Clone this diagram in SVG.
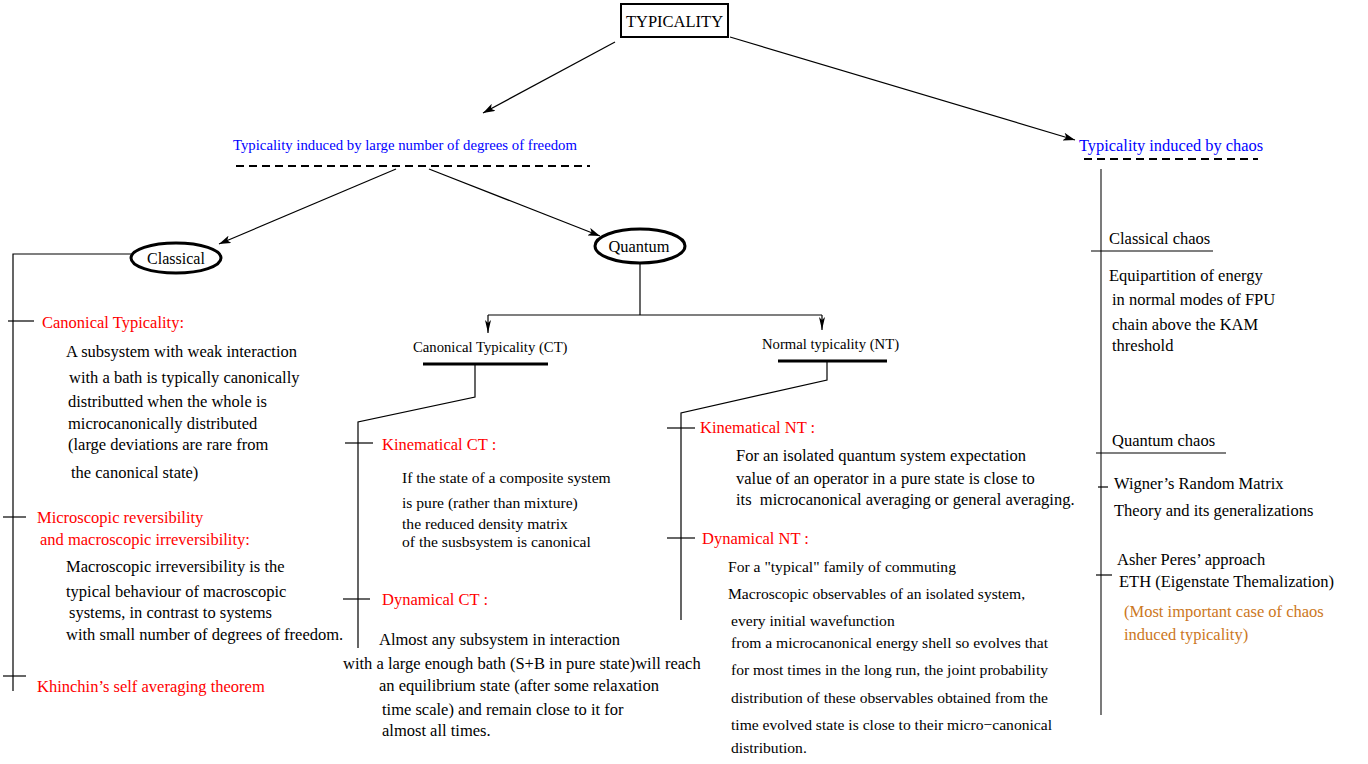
<svg xmlns="http://www.w3.org/2000/svg" width="1368" height="764" viewBox="0 0 1368 764">
<style>
text{font-family:"Liberation Serif","Times New Roman",serif;fill:#000}
.s165{font-size:16.5px}
.s156{font-size:15.6px}
.s147{font-size:14.7px}
.red{fill:#ff0000;font-size:16.5px}
.blue{fill:#0000ff}
.orange{fill:#cc7722;font-size:16.5px}
.ln{stroke:#000;stroke-width:1.2;fill:none}
.gl{stroke:#333;stroke-width:1.3;fill:none}
.thick{stroke:#000;stroke-width:3.2;fill:none}
.dash{stroke:#000;stroke-width:2;stroke-dasharray:8 5;fill:none}
.ell{stroke:#000;stroke-width:3;fill:#fff}
</style>
<defs>
<marker id="ah" markerUnits="userSpaceOnUse" markerWidth="12" markerHeight="8" refX="12" refY="4" orient="auto">
<path d="M0,0 L12,4 L0,8 L3,4 z" fill="#000"/>
</marker>
<marker id="ahs" markerUnits="userSpaceOnUse" markerWidth="6" markerHeight="12" refX="3" refY="12" orient="0">
<path d="M0,0 L3,12 L6,0 L3,3 z" fill="#000"/>
</marker>
</defs>
<rect width="1368" height="764" fill="#fff"/>

<g id="connectors">
<line class="ln" x1="615" y1="42" x2="483" y2="113" marker-end="url(#ah)"/>
<line class="ln" x1="730" y1="37" x2="1075" y2="140" marker-end="url(#ah)"/>
<line class="ln" x1="396" y1="169" x2="219" y2="244" marker-end="url(#ah)"/>
<line class="ln" x1="429" y1="169" x2="600" y2="236" marker-end="url(#ah)"/>
<polyline class="ln" points="131,254 13,254 13,691"/>
<line class="ln" x1="640" y1="263" x2="640" y2="315"/>
<line class="ln" x1="488" y1="315" x2="822" y2="315"/>
<line class="ln" x1="488" y1="315" x2="488" y2="333"/>
<path d="M485,320 L488,333 L491,320 L488,323 z" fill="#000"/>
<line class="ln" x1="822" y1="315" x2="822" y2="330"/>
<path d="M819,317 L822,330 L825,317 L822,320 z" fill="#000"/>
<polyline class="ln" points="475,364 475,397 358,422 358,648"/>
<polyline class="ln" points="827,361 827,380 681,413 681,620"/>
<line class="gl" x1="1101" y1="169" x2="1101" y2="715"/>
<line class="ln" x1="8" y1="321" x2="34" y2="321"/>
<line class="ln" x1="3" y1="517" x2="26" y2="517"/>
<line class="ln" x1="3" y1="676" x2="26" y2="676"/>
<line class="ln" x1="345" y1="443" x2="373" y2="443"/>
<line class="ln" x1="343" y1="599" x2="370" y2="599"/>
<line class="ln" x1="667" y1="428" x2="695" y2="428"/>
<line class="ln" x1="667" y1="538" x2="695" y2="538"/>
<line class="ln" x1="1091" y1="251" x2="1213" y2="251"/>
<line class="ln" x1="1096" y1="453" x2="1226" y2="453"/>
<line class="ln" x1="1098" y1="487" x2="1108" y2="487"/>
<line class="ln" x1="1096" y1="575" x2="1112" y2="575"/>
</g>

<g id="typicality">
<rect x="621" y="4" width="107" height="33" fill="#fff" stroke="#000" stroke-width="2"/>
<text x="674.5" y="27" class="s165" text-anchor="middle" font-size="16.3">TYPICALITY</text>
</g>

<g id="dof">
<text x="233" y="150" class="blue" font-size="15" textLength="344" lengthAdjust="spacingAndGlyphs">Typicality induced by large number of degrees of freedom</text>
<line class="dash" x1="236" y1="166" x2="590" y2="166"/>
</g>

<g id="chaos">
<text x="1079" y="151" class="blue" font-size="16.4">Typicality induced by chaos</text>
<line class="dash" x1="1084" y1="159" x2="1258" y2="159"/>
</g>

<g id="classical">
<ellipse class="ell" cx="176" cy="258" rx="45" ry="15"/>
<text x="176" y="264" font-size="16" text-anchor="middle">Classical</text>
</g>

<g id="quantum">
<ellipse class="ell" cx="640" cy="246" rx="45" ry="17"/>
<text x="639" y="252" font-size="16.4" text-anchor="middle">Quantum</text>
</g>

<g id="classical-items">
<text x="42" y="328" class="red">Canonical Typicality:</text>
<text x="66" y="357" class="s165">A subsystem with weak interaction</text>
<text x="69" y="383" class="s165">with a bath is typically canonically</text>
<text x="68" y="407" class="s165">distributted when the whole is</text>
<text x="68" y="429" class="s165">microcanonically distributed</text>
<text x="68" y="450" class="s165">(large deviations are rare from</text>
<text x="71" y="478" class="s165">the canonical state)</text>
<text x="37" y="523" class="red">Microscopic reversibility</text>
<text x="40" y="545" class="red">and macroscopic irreversibility:</text>
<text x="66" y="572" class="s165">Macroscopic irreversibility is the</text>
<text x="66" y="597" class="s165">typical behaviour of macroscopic</text>
<text x="69" y="618" class="s165">systems, in contrast to systems</text>
<text x="66" y="640" class="s165">with small number of degrees of freedom.</text>
<text x="37" y="692" class="red">Khinchin’s self averaging theorem</text>
</g>

<g id="ct">
<text x="413" y="352" class="s147">Canonical Typicality (CT)</text>
<line class="thick" x1="423" y1="364" x2="548" y2="364"/>
</g>

<g id="ct-items">
<text x="382" y="450" class="red">Kinematical CT :</text>
<text x="402" y="483" class="s156">If the state of a composite system</text>
<text x="402" y="508" class="s156">is pure (rather than mixture)</text>
<text x="402" y="529" class="s156">the reduced density matrix</text>
<text x="402" y="547" class="s156">of the susbsystem is canonical</text>
<text x="382" y="605" class="red">Dynamical CT :</text>
<text x="379" y="645" class="s165">Almost any subsystem in interaction</text>
<text x="343" y="669" class="s165">with a large enough bath (S+B in pure state)will reach</text>
<text x="379" y="691" class="s165">an equilibrium state (after some relaxation</text>
<text x="382" y="715" class="s165">time scale) and remain close to it for</text>
<text x="382" y="736" class="s165">almost all times.</text>
</g>

<g id="nt">
<text x="762" y="349" class="s147">Normal typicality (NT)</text>
<line class="thick" x1="778" y1="361" x2="887" y2="361"/>
</g>

<g id="nt-items">
<text x="700" y="433" class="red">Kinematical NT :</text>
<text x="736" y="461" class="s165">For an isolated quantum system expectation</text>
<text x="736" y="484" class="s165">value of an operator in a pure state is close to</text>
<text x="736" y="505" class="s165" xml:space="preserve">its  microcanonical averaging or general averaging.</text>
<text x="702" y="544" class="red">Dynamical NT :</text>
<text x="728" y="572" class="s156">For a "typical" family of commuting</text>
<text x="728" y="599" class="s156">Macroscopic observables of an isolated system,</text>
<text x="731" y="626" class="s156">every initial wavefunction</text>
<text x="731" y="648" class="s156">from a microcanonical energy shell so evolves that</text>
<text x="731" y="675" class="s156">for most times in the long run, the joint probability</text>
<text x="731" y="703" class="s156">distribution of these observables obtained from the</text>
<text x="731" y="730" class="s156">time evolved state is close to their micro−canonical</text>
<text x="731" y="753" class="s156">distribution.</text>
</g>

<g id="chaos-items">
<text x="1109" y="244" class="s165">Classical chaos</text>
<text x="1109" y="281" class="s165">Equipartition of energy</text>
<text x="1112" y="305" class="s165">in normal modes of FPU</text>
<text x="1112" y="330" class="s165">chain above the KAM</text>
<text x="1112" y="351" class="s165">threshold</text>
<text x="1112" y="446" class="s165">Quantum chaos</text>
<text x="1114" y="489" class="s165">Wigner’s Random Matrix</text>
<text x="1114" y="516" class="s165">Theory and its generalizations</text>
<text x="1117" y="565" class="s165">Asher Peres’ approach</text>
<text x="1119" y="587" class="s165">ETH (Eigenstate Themalization)</text>
<text x="1124" y="617" class="orange">(Most important case of chaos</text>
<text x="1124" y="640" class="orange">induced typicality)</text>
</g>
</svg>
